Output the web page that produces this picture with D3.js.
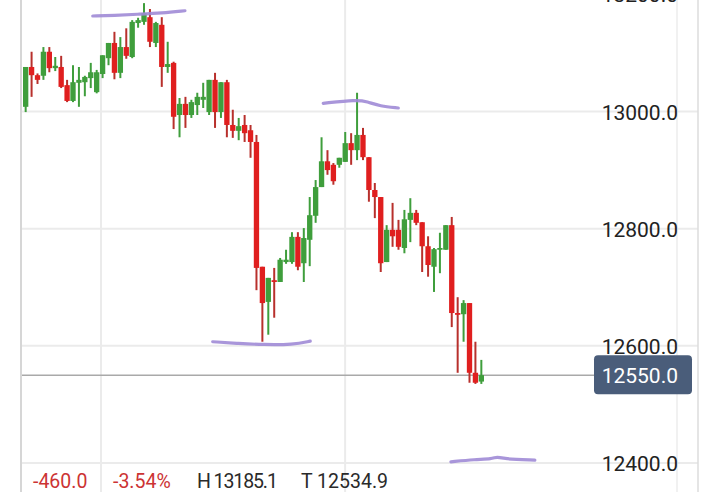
<!DOCTYPE html>
<html><head><meta charset="utf-8">
<script src="https://cdn.jsdelivr.net/npm/d3@7"></script>
<style>html,body{margin:0;padding:0;background:#fff;}svg{display:block;}</style>
</head><body>
<script>
const opens  = [13008,13076,13062,13061,13102,13074,13076,13045,13018,13049,13050,13057,13033,13064,13091,13117,13066,13110,13093,13151,13153,13161,13117,13148,13076,13083,12994,13013,12994,13011,13020,12999,13054,12999,13050,12977,12967,12977,12968,12948,12735,12675,12712,12709,12743,12743,12786,12741,12781,12822,12871,12915,12909,12909,12914,12946,12934,12960,12922,12866,12854,12743,12798,12798,12767,12815,12827,12811,12770,12735,12764,12764,12806,12656,12654,12673,12554,12539];
const highs  = [13076,13102,13065,13110,13110,13093,13095,13054,13079,13076,13061,13083,13071,13096,13117,13136,13127,13142,13156,13160,13185,13175,13153,13161,13119,13085,13023,13025,13020,13032,13049,13054,13066,13050,13054,13003,12989,12994,12977,12960,12735,12716,12733,12750,12764,12794,12794,12801,12854,12883,12956,12934,12912,12921,12965,12963,13032,12972,12922,12878,12854,12806,12844,12815,12832,12852,12832,12811,12787,12767,12793,12806,12820,12683,12678,12673,12607,12576];
const lows   = [12999,13025,13047,13054,13067,13069,13040,13016,13016,13008,13026,13040,13031,13057,13079,13055,13057,13090,13091,13143,13148,13110,13110,13042,13066,12970,12956,12972,12989,12994,13006,12994,12972,12989,12956,12955,12951,12948,12921,12695,12607,12619,12648,12709,12740,12740,12729,12709,12736,12810,12871,12892,12875,12904,12914,12909,12917,12917,12846,12818,12726,12743,12769,12764,12758,12777,12806,12726,12718,12692,12724,12764,12632,12554,12607,12537,12535,12535];
const closes = [13076,13062,13054,13102,13074,13078,13042,13018,13050,13054,13059,13067,13067,13096,13117,13066,13110,13095,13153,13156,13168,13119,13151,13076,13081,12991,13013,12994,13016,13025,13025,13054,12999,13050,12977,12967,12975,12963,12948,12733,12673,12716,12709,12747,12747,12786,12735,12784,12823,12871,12915,12900,12881,12921,12946,12934,12960,12922,12866,12854,12741,12798,12787,12769,12816,12827,12810,12770,12738,12765,12767,12806,12656,12653,12673,12554,12537,12550];
const priceTicks = [13200, 13000, 12800, 12600, 12400];
const lastPrice = 12550.0;
const infoChange = "-460.0";
const infoPct = "-3.54%";
const infoHigh = "H 13185.1";
const infoLow = "T 12534.9";
const timeGridIdx = [13.2, 54.5];
const strokeTop = [[11.8,13163],[15.5,13164],[19.3,13166],[23.5,13168],[27.4,13172]];
const strokeMid = [[50.8,13014],[56.5,13020],[58.2,13017],[60.4,13009],[63.5,13006]];
const strokeLow = [[32.1,12607],[36.5,12604],[40.6,12602],[45.7,12602],[48.6,12608]];
const strokeBR  = [[72.4,12402],[76.5,12406],[79.4,12407],[80.2,12411],[81.2,12407],[86.6,12405]];

const W = 720, H = 492;
const svg = d3.select("body").append("svg").attr("width", W).attr("height", H);
const n = opens.length;
const x = d3.scaleBand().domain(d3.range(n)).range([23, 484]).paddingInner(0.1);
const xi = d3.scaleLinear().domain([0, n]).range([23, 484]);
const y = d3.scaleLinear().domain([12400, 13000]).range([463, 111.5]);

// grid
const grid = svg.append("g");
grid.selectAll("line.h").data(priceTicks).join("line")
  .attr("x1", 22).attr("x2", 698).attr("y1", d => y(d)).attr("y2", d => y(d))
  .attr("stroke", "#ebebeb").attr("stroke-width", 2);
grid.selectAll("line.v").data(timeGridIdx).join("line")
  .attr("x1", d => xi(d)).attr("x2", d => xi(d)).attr("y1", 0).attr("y2", H)
  .attr("stroke", "#ebebeb").attr("stroke-width", 2);
grid.append("line").attr("x1", 21).attr("x2", 21).attr("y1", 0).attr("y2", H).attr("stroke", "#d6d6d6").attr("stroke-width", 2);
grid.append("line").attr("x1", 677).attr("x2", 677).attr("y1", 0).attr("y2", H).attr("stroke", "#ededed").attr("stroke-width", 1.5);
grid.append("line").attr("x1", 698).attr("x2", 698).attr("y1", 0).attr("y2", H).attr("stroke", "#dcdcdc").attr("stroke-width", 1.5);

// last price line
svg.append("line").attr("x1", 22).attr("x2", 594).attr("y1", y(lastPrice)).attr("y2", y(lastPrice))
  .attr("stroke", "#a9a9a9").attr("stroke-width", 1.5);

// candles
const data = d3.range(n).map(i => ({i, o: opens[i], h: highs[i], l: lows[i], c: closes[i]}));
const up = "#3f9e3c", down = "#e01f1f", downWick = "#b8302c";
const cg = svg.append("g");
cg.selectAll("line.wick").data(data).join("line")
  .attr("x1", d => x(d.i) + x.bandwidth()/2).attr("x2", d => x(d.i) + x.bandwidth()/2)
  .attr("y1", d => y(d.h)).attr("y2", d => y(d.l))
  .attr("stroke", d => d.c >= d.o ? up : downWick).attr("stroke-width", 2);
cg.selectAll("rect").data(data).join("rect")
  .attr("x", d => x(d.i)).attr("width", x.bandwidth())
  .attr("y", d => y(Math.max(d.o, d.c)))
  .attr("height", d => Math.max(1.5, Math.abs(y(d.o) - y(d.c))))
  .attr("fill", d => d.c >= d.o ? up : down);

// annotation strokes
const line = d3.line().x(d => xi(d[0])).y(d => y(d[1])).curve(d3.curveBasis);
[strokeTop, strokeMid, strokeLow, strokeBR].forEach(s => {
  svg.append("path").attr("d", line(s)).attr("fill", "none")
    .attr("stroke", "#a08bd6").attr("stroke-width", 3.2).attr("stroke-linecap", "round").attr("opacity", 0.9);
});

// axis
const axis = d3.axisLeft(y).tickValues(priceTicks).tickSize(0).tickPadding(0).tickFormat(d3.format(".1f"));
const ag = svg.append("g").attr("transform", "translate(678,0)").call(axis);
ag.select(".domain").remove();
ag.selectAll("text").attr("font-family", "Roboto").attr("font-size", 21).attr("fill", "#222").attr("dy", "0.36em");

// last price box
svg.append("rect").attr("x", 594).attr("y", y(lastPrice) - 20).attr("width", 98).attr("height", 39)
  .attr("rx", 4).attr("fill", "#4a5d7a");
svg.append("text").attr("x", 678).attr("y", y(lastPrice)).attr("dy", "0.36em").attr("text-anchor", "end")
  .attr("font-family", "Roboto").attr("font-size", 21).attr("fill", "#fff").text(d3.format(".1f")(lastPrice));

// info row
const info = [[infoChange, 33, "#cc3333", 0], [infoPct, 113, "#cc3333", 0], [infoHigh, 197, "#2a2a2a", -1.1], [infoLow, 301, "#2a2a2a", 0]];
svg.selectAll("text.info").data(info).join("text").attr("class", "info")
  .attr("x", d => d[1]).attr("y", 488).attr("font-family", "Roboto").attr("font-size", 19.5)
  .attr("letter-spacing", d => d[3])
  .attr("fill", d => d[2]).text(d => d[0]);
</script>
</body></html>
